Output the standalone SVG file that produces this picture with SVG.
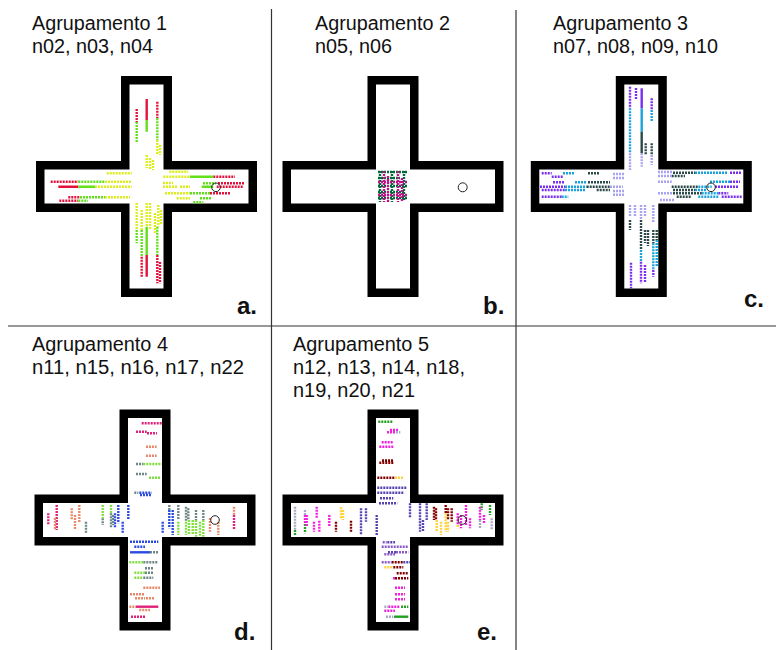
<svg xmlns="http://www.w3.org/2000/svg" width="776" height="650" viewBox="0 0 776 650">
<style>
text{font-family:"Liberation Sans",Arial,sans-serif;fill:#111}
.t{font-size:20px}
.l{font-size:24px;font-weight:bold}
.rule{stroke:#333;stroke-width:1.2}
.x{fill:#fff;stroke:#000;stroke-width:8.5;stroke-linejoin:miter}
.g{fill:none;stroke:#222;stroke-width:1}
.d{fill:none;stroke-width:2.4;stroke-dasharray:2 1}
.s{fill:none;stroke-width:2.4}
.ar{stroke:#e4123a}.ag{stroke:#62e01a}.ay{stroke:#dcee1c}
.bm{stroke:#c0108a}.bg{stroke:#006a3a}
.cp{stroke:#7a2ef0}.cc{stroke:#1aa3dc}.ck{stroke:#2d4a4a}.cl{stroke:#a8a4f2}
.dp{stroke:#e0207a}.ds{stroke:#e88a6a}.dk{stroke:#6f8686}.dl{stroke:#80e040}.db{stroke:#2a4ae0}
.eg{stroke:#22a022}.em{stroke:#f420e0}.er{stroke:#800000}.eo{stroke:#ffd23a}.ev{stroke:#5544b0}.eu{stroke:#8a5ac8}.ey{stroke:#a8aac4}
</style>
<defs>
<path id="cross" d="M-21.25 -106.25H21.25V-21.25H106.25V21.25H21.25V106.25H-21.25V21.25H-106.25V-21.25H-21.25Z"/>
</defs>
<rect width="776" height="650" fill="#fff"/>
<g id="rules">
<line class="rule" x1="271.5" y1="9" x2="271.5" y2="650"/>
<line class="rule" x1="516" y1="10" x2="516" y2="650"/>
<line class="rule" x1="8" y1="326" x2="776" y2="326"/>
</g>
<g id="labels">
<text class="t" x="32" y="30" textLength="135" lengthAdjust="spacingAndGlyphs">Agrupamento 1</text>
<text class="t" x="32" y="53" textLength="121" lengthAdjust="spacingAndGlyphs">n02, n03, n04</text>
<text class="t" x="315" y="30" textLength="135" lengthAdjust="spacingAndGlyphs">Agrupamento 2</text>
<text class="t" x="315" y="53" textLength="77" lengthAdjust="spacingAndGlyphs">n05, n06</text>
<text class="t" x="553" y="30" textLength="135" lengthAdjust="spacingAndGlyphs">Agrupamento 3</text>
<text class="t" x="553" y="53" textLength="165" lengthAdjust="spacingAndGlyphs">n07, n08, n09, n10</text>
<text class="t" x="32" y="351" textLength="136" lengthAdjust="spacingAndGlyphs">Agrupamento 4</text>
<text class="t" x="32" y="374" textLength="212" lengthAdjust="spacingAndGlyphs">n11, n15, n16, n17, n22</text>
<text class="t" x="293" y="351" textLength="136" lengthAdjust="spacingAndGlyphs">Agrupamento 5</text>
<text class="t" x="293" y="374" textLength="172" lengthAdjust="spacingAndGlyphs">n12, n13, n14, n18,</text>
<text class="t" x="293" y="397" textLength="122" lengthAdjust="spacingAndGlyphs">n19, n20, n21</text>
<text class="l" x="237" y="314">a.</text>
<text class="l" x="483" y="314">b.</text>
<text class="l" x="744" y="307">c.</text>
<text class="l" x="234" y="640">d.</text>
<text class="l" x="477" y="640">e.</text>
</g>
<g id="panel-a">
<use href="#cross" class="x" transform="translate(146.5 186.5)"/>
<path class="d ar" d="M136.7 109V122M157.3 101.7V118.3M50.7 181.7H78.3M68.3 197.3H80M59.3 200.7H78.3M213.3 176.7H235M218 183.3H245M216.7 186.7H243.3M210 193.3H230M141.7 256.7V276.7M157.3 255V283.3M160 262V283.3"/>
<path class="s ar" d="M146.7 99V120M58.3 186.7H78.3M146.7 255V276.7"/>
<path class="d ag" d="M136.7 122V142M157.3 118.3V140M78.3 181.7H105M80 197.3H105M78.3 200.7H88M203 183.3H216M190 193.3H210M200 198.3H211.7M193.3 202.3H203.3M136.7 230V243.3M141.7 230V256.7M157.3 226.7V255"/>
<path class="s ag" d="M146.7 120V131.7M78.3 186.7H95M190 176.7H213.3M201.7 186.7H213.3M146.7 226.7V255"/>
<path class="d ay" d="M157.3 140V155M160 145V155M146.7 155V168M150 158V170M153 160V170M105 181.7H131.7M95 186.7H131.7M106.7 173.3H131.7M105 197.3H130M169.3 171.7H188.3M163.3 176.7H190M163 186.7H177M180 186.7H190M165 193.3H190M176.7 198.3H190M163 183H173M136.7 203V230M141.7 210V230M146.7 203V226.7M150 203V230M155 213V233M158.3 205V226.7M161 210V225"/>
<circle class="g" cx="216" cy="187.3" r="4.3"/>
</g>
<g id="panel-b">
<use href="#cross" class="x" transform="translate(393 186.5)"/>
<path class="d bg" d="M378 172H408M378 178H400M378 186H408M378 192H404M378 198H408M380 171V202M392 171V202M404 171V200"/>
<path class="d bm" d="M384 171V202M388 176V202M398 171V202M402 178V202M378 182H408M378 195H408"/>
<circle class="g" cx="462.7" cy="187.3" r="4.5"/>
</g>
<g id="panel-c">
<use href="#cross" class="x" transform="translate(641.3 186.5)"/>
<path class="d cp" d="M630 86.7V108.3M636 88V100M651.7 98.3V110M541.7 173.3H551.7M551.7 176.7H563.3M553 182.3H565M540 186.7H565M541.7 190H565M541.7 196.7H561.7M730 172.7H741.7M730 181.7H740M715 186.7H738M718.3 193.3H728.3M721.7 196.7H741.7M641 261.7V283.3M631 262.7V288.3M653.3 270V276.7M645 265V283"/>
<path class="s cp" d="M641.7 88.3V108.3"/>
<path class="d cc" d="M630 108.3V153.3M651.7 110V121.7M563 173.3H575M575 182.3H586.7M565 186.7H586.7M565 190H585M561.7 196.7H568.3M695 172.7H728M710 181.7H730M698.3 186.7H711.7M695 190H706.7M701.7 193.3H718.3M698.3 196.7H718.3M641 250V261.7M653.3 243.3V270M656.7 240V266.7"/>
<path class="s cc" d="M641.7 108.3V131.7"/>
<path class="d ck" d="M651.7 143.3V155M645.7 143.3V155M588 173.3H600M588 182.3H610M586.7 186.7H610M596.7 190H610M673 172.7H695M671.7 176H685M671.7 186.7H698.3M673 190H695M673 193.3H701.7M676.7 196.7H691.7M630 220V230M641 220V250M645 230V243M648 230V246M653.3 230V243.3M656.7 230V240"/>
<path class="s ck" d="M641.7 131.7V153.3"/>
<path class="d cl" d="M630 153.3V170M641.7 153.3V166.7M651.7 155V165M610 186.7H623M613 174H624M613 178H624M613 191H625M613 194.7H625M658 172H672M658 176H671.7M658 181.7H671.7M658 193.3H673M660 200H675M630 205V216.7M635 205V216.7M641 205V220M645 205V216.7M653.3 205V223"/>
<circle class="g" cx="711" cy="187.3" r="4.3"/>
</g>
<g id="panel-d">
<use href="#cross" class="x" transform="translate(145 520)"/>
<path class="d dp" d="M141.7 423.3H161.7M136 431.7H146.7M147 433.3H157M48.3 513.3V525M56.7 505V530M234 515V530M131 616.7H145"/>
<path class="s dp" d="M136 606.7H158.3"/>
<path class="d ds" d="M146 446.7H156.7M146 455.7H156.7M55 518V530M71.7 508.3V520M75 515V530M79.3 505V523M210 518V531.7M218.3 521.7V535M234 506.7V515M143.3 587.7H160M130 594.3H145M135 598.3H145M146 598.3H155M129.3 606.7H136M139.3 610H150"/>
<path class="d dk" d="M136 464H143.3M136 474H146.7M134.3 492.7H138.3M86 521.7V533.3M102.7 518.3V525M111 513.3V528.3M113 515V525M169.3 505V511.7M178.3 505V520M186 506.7V521.7M188.3 508.3V520M196 510V520M203.3 510V520M150 552.3H158.3M143.3 562.3H158.3M145 568.3H153.3M145 572.7H153.3M143.3 577.7H153.3"/>
<path class="d dl" d="M143.3 464H161.7M149 477.7H160.7M102.7 505V518M111 505V513.3M178.3 521.7V535M186 521.7V535M189 520V535M192.7 520V535M196 520V536.7M200 521.7V536.7M203.3 520V536.7M129.3 562.3H143.3M134.3 572.7H145M134.3 577.7H143.3"/>
<path class="d db" d="M139.3 492.7H151.7M140 495H151.7M115 513.3V528.3M118.3 505V523.3M122.7 521.7V533.3M128.3 505V520M162.7 521.7V533.3M169.3 510V528.3M172.7 510V535M130 541.7H158.3M134.3 546.7H145"/>
<path class="s db" d="M130 552.3H150"/>
<circle class="g" cx="215" cy="520" r="4.3"/>
</g>
<g id="panel-e">
<use href="#cross" class="x" transform="translate(393 520)"/>
<path class="d eg" d="M378.3 421.7H393.3M401 606.7H408.3M305 524V533.3M295 530V536M481.7 503.3V510M490 505V515"/>
<path class="s eg" d="M394 616.7H408.3"/>
<path class="d em" d="M387 432.3H395M390 430H398M381.7 442.3H393.3M379.3 446.7H393.3M305 515V524M306.7 515V526.7M316.7 506.7V518.3M314 521.7V531.7M319.3 520.7V531.7M329.3 515V526.7M457.7 513.3V525M461 515V528.3M466 505V525M470 518.3V528.3M480 506.7V520M484 515V523.3M393 578.3H396.7M395 587.7H405M395 594.3H405M395 599.3H405M388.3 606.7H400M384.3 610.7H395"/>
<path class="d er" d="M379.3 462.7H393.3M382 460.5H393.3M377.3 477.7H395M336 521.7V531.7M351 520.7V531.7M434 506.7V520M436 508.3V520M445.7 505V513M448 508.3V520M451.7 508.3V521.7M391.7 562.3H403.3M393.3 567.3H403.3M396.7 573.3H408.3M395 578.3H408.3"/>
<path class="d eo" d="M395 477.7H403.3M341 507.3V518.3M343 510V520M436.7 520V531.7M441 521.7V535M445.7 513.3V531.7M448 521.7V531.7M457.7 525V528.3M384.3 567.3H393.3"/>
<path class="d ev" d="M377.3 487.7H406.7M377.3 492.7H403.3M380 498.3H393.3M379 503.3H397.3M361 508.3V535M366 508.3V521.7M376.7 515V535M410 503.3V518.3M420 503.3V531.7M423 520V531.7M426.7 503.3V520M387.3 542.3H395M388 552.3H396.7M403.3 562.3H410"/>
<path class="d eu" d="M381.7 546.7H408.3M396 552.3H408.3M384.3 554.3H395M381.7 562.3H391.7M382.7 542.3H386.7"/>
<path class="d ey" d="M396 432.3H400.3M295 506.7V530M305 510V515M480 520V528.3M491.7 518.3V530M384.3 606.7H388.3M386 616.7H393.3"/>
<circle class="g" cx="462.3" cy="520" r="4.3"/>
</g>
</svg>
